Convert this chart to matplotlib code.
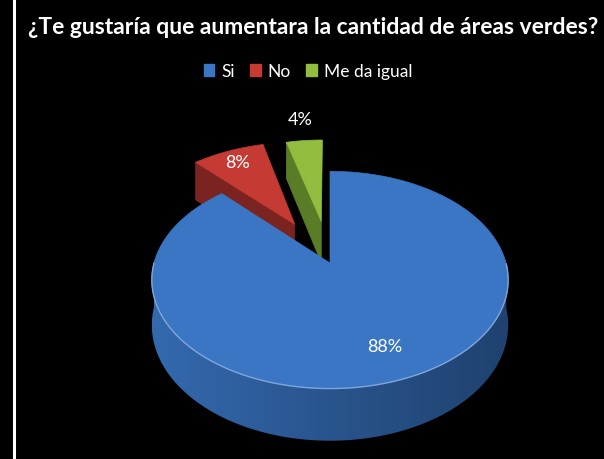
import numpy as np
import matplotlib
matplotlib.use("Agg")
import matplotlib.pyplot as plt
from matplotlib.patches import Polygon, Patch
from matplotlib.colors import to_rgb, LinearSegmentedColormap

plt.rcParams["font.family"] = ["Lato", "DejaVu Sans"]

title = "¿Te gustaría que aumentara la cantidad de áreas verdes?"
labels = ["Si", "No", "Me da igual"]
values = [88, 8, 4]
explode = [0.0, 0.44, 0.42]
label_r = [0.75, 0.84, 1.32]

top_colors = ["#3b76c4", "#c63a34", "#93bd3f"]
side_colors = ["#1f426f", "#7a2320", "#5b7c26"]

# geometry of the tilted pie, in pixels
cx, cy, a, b, k, depth = 330, 264, 176, 106, 0.156, 44


def proj(u, v, z):
    # simple perspective: far side (v > 0) is a bit smaller
    s = 1.0 / (1.0 + k * v)
    return cx + a * u * s, cy - b * v * s + depth * (1 - z) * s


def mix(c1, c2, t):
    c1, c2 = np.array(to_rgb(c1)), np.array(to_rgb(c2))
    return tuple(c1 * (1 - t) + c2 * t)


fig = plt.figure(figsize=(6.04, 4.60), dpi=100)
fig.patch.set_facecolor("black")
ax = fig.add_axes([0, 0, 1, 1])
ax.axis("off")
ax.set_facecolor("black")

fracs = np.array(values) / np.sum(values)
cum = np.concatenate([[0], np.cumsum(fracs)])
# clockwise from 12 o'clock
slices = []
for i in range(len(values)):
    t_hi = np.pi / 2 - 2 * np.pi * cum[i]
    t_lo = np.pi / 2 - 2 * np.pi * cum[i + 1]
    mid = (t_hi + t_lo) / 2
    slices.append((i, t_lo, t_hi, mid))

# paint back slices first
order = sorted(slices, key=lambda s: -np.sin(s[3]))
z = 1

for i, t_lo, t_hi, mid in order:
    ou = explode[i] * np.cos(mid)
    ov = explode[i] * np.sin(mid)
    top = top_colors[i]
    side = side_colors[i]

    # cut faces
    for t, nrm in [(t_lo, t_lo - np.pi / 2), (t_hi, t_hi + np.pi / 2)]:
        if np.sin(nrm) < -1e-6:
            eu, ev = ou + np.cos(t), ov + np.sin(t)
            pts = [proj(ou, ov, 1), proj(eu, ev, 1), proj(eu, ev, 0), proj(ou, ov, 0)]
            ax.add_patch(Polygon(pts, closed=True, facecolor=side, edgecolor=side,
                                 lw=0.5, zorder=z))
            z += 1

    ts = np.linspace(t_lo, t_hi, 400)

    # outer wall, front part only, with a left-to-right shading
    tf = ts[np.sin(ts) < 0]
    if len(tf) > 1:
        upper = [proj(ou + np.cos(t), ov + np.sin(t), 1) for t in tf]
        lower = [proj(ou + np.cos(t), ov + np.sin(t), 0) for t in tf[::-1]]
        wall = Polygon(upper + lower, closed=True, facecolor="none",
                       edgecolor="none", zorder=z)
        ax.add_patch(wall)
        xs = np.array([p[0] for p in upper + lower])
        ys = np.array([p[1] for p in upper + lower])
        cmap = LinearSegmentedColormap.from_list(
            "wall", [mix(side, top, 0.75), mix(side, top, 0.35), side])
        grad = np.linspace(0, 1, 256).reshape(1, -1)
        im = ax.imshow(grad, cmap=cmap, aspect="auto", zorder=z,
                       extent=[xs.min(), xs.max(), ys.max(), ys.min()],
                       interpolation="bilinear")
        im.set_clip_path(wall)
        z += 1

    # top face
    arc = [proj(ou + np.cos(t), ov + np.sin(t), 1) for t in ts]
    ax.add_patch(Polygon([proj(ou, ov, 1)] + arc, closed=True,
                         facecolor=top, edgecolor=top, lw=0.5, zorder=z))
    z += 1

    # light rim on the front edge
    front = [p for t, p in zip(ts, arc) if np.sin(t) < 0]
    if front:
        fx, fy = zip(*front)
        ax.plot(fx, fy, color=mix(top, "white", 0.35), lw=1.0, zorder=z)
        z += 1

    # percentage label
    r = explode[i] + label_r[i]
    lx, ly = proj(r * np.cos(mid), r * np.sin(mid), 1)
    ax.text(lx, ly, f"{values[i]}%", color="white", fontsize=13,
            ha="center", va="center", zorder=100)

ax.set_xlim(0, 604)
ax.set_ylim(460, 0)

# white strip on the left
ax.axvline(14, color="white", lw=2.2, zorder=200)

fig.text(0.518, 1 - 28 / 460, title, ha="center", va="center",
         color="white", fontsize=16.5, fontweight="bold")

handles = [Patch(facecolor=c, edgecolor=c) for c in top_colors]
fig.legend(handles, labels, loc="center", bbox_to_anchor=(0.51, 1 - 72 / 460),
           ncol=3, frameon=False, labelcolor="white", fontsize=12.5,
           handlelength=0.6, handleheight=0.7, handletextpad=0.4,
           columnspacing=0.9)

fig.savefig("out.png", dpi=100, facecolor="black")
